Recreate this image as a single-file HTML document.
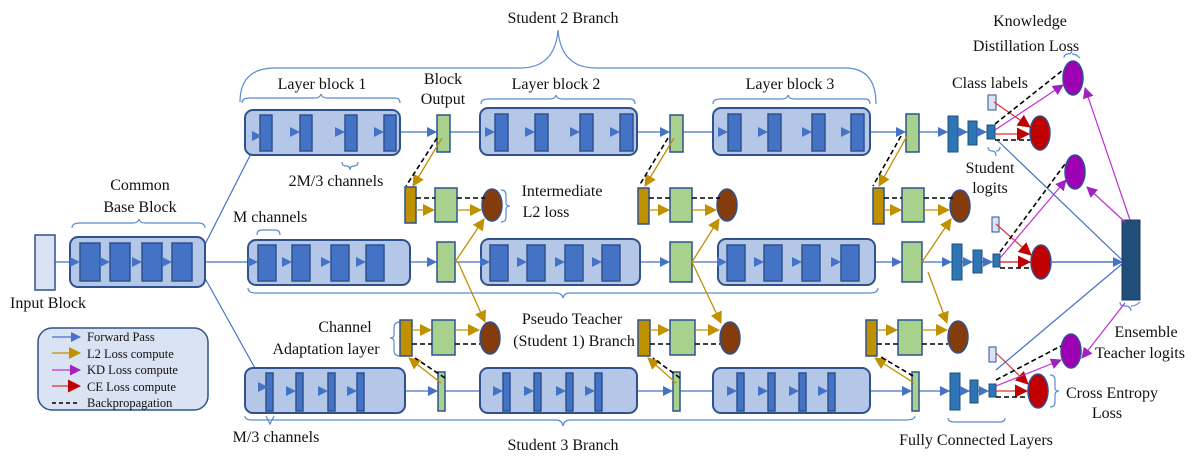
<!DOCTYPE html>
<html><head><meta charset="utf-8"><style>
body{margin:0;background:#fff}
svg{display:block}
text{font-family:"Liberation Serif",serif;fill:#111}
.blk{fill:#b4c7e7;stroke:#2f528f;stroke-width:2}
.in{fill:#4472c4;stroke:#2f528f;stroke-width:1.5}
.fc{fill:#2e75b6;stroke:#1f4e79;stroke-width:1}
.gr{fill:#a9d18e;stroke:#2f528f;stroke-width:1.5}
.or{fill:#bf9000;stroke:#2f528f;stroke-width:1.5}
.br{fill:#843c0c;stroke:#2f528f;stroke-width:1.5}
.rd{fill:#c00000;stroke:#2f528f;stroke-width:1.5}
.pu{fill:#9e00b4;stroke:#2f528f;stroke-width:1.5}
.bl{stroke:#4472c4;stroke-width:1.2;fill:none}
.au{stroke:#c09000;stroke-width:1.3;fill:none}
.pl{stroke:#c030d0;stroke-width:1.2;fill:none}
.re{stroke:#e03030;stroke-width:1.2;fill:none}
.da{stroke:#000;stroke-width:1.6;stroke-dasharray:5,3;fill:none}
.br2{stroke:#5b8bd0;stroke-width:1.2;fill:none}
.tri{fill:#4472c4}
</style></head><body>
<svg width="1196" height="459" viewBox="0 0 1196 459" xmlns="http://www.w3.org/2000/svg">
<defs>
<marker id="mb" markerWidth="10" markerHeight="10" refX="9" refY="5" orient="auto" markerUnits="userSpaceOnUse"><path d="M0,0L10,5L0,10z" fill="#4472c4"/></marker>
<marker id="mg" markerWidth="12" markerHeight="12" refX="11" refY="6" orient="auto" markerUnits="userSpaceOnUse"><path d="M0,0L12,6L0,12z" fill="#c09000"/></marker>
<marker id="mp" markerWidth="11" markerHeight="11" refX="10" refY="5.5" orient="auto" markerUnits="userSpaceOnUse"><path d="M0,0L11,5.5L0,11z" fill="#a020c0"/></marker>
<marker id="mr" markerWidth="13" markerHeight="13" refX="12" refY="6.5" orient="auto" markerUnits="userSpaceOnUse"><path d="M0,0L13,6.5L0,13z" fill="#c00000"/></marker>
<path id="t" d="M-10,-5L0,0L-10,5z" fill="#4472c4"/>
</defs>

<!-- Braces -->
<path class="br2" d="M240,102 Q240,68 275,68 L520,68 Q555,68 558,30 Q561,68 596,68 L845,68 Q876,68 876,104"/>
<path class="br2" d="M242,103 Q242,98 250,98 L315,98 Q320,98 321,94 Q322,98 327,98 L395,98 Q400,98 400,103"/>
<path class="br2" d="M481,104 Q481,99 488,99 L550,99 Q555,99 556,95 Q557,99 562,99 L630,99 Q635,99 635,104"/>
<path class="br2" d="M713,104 Q713,99 720,99 L782,99 Q787,99 788,95 Q789,99 794,99 L865,99 Q870,99 870,104"/>
<path class="br2" d="M72,228 Q72,223 80,223 L133,223 Q138,223 139,219 Q140,223 145,223 L198,223 Q205,223 205,228"/>
<path class="br2" d="M342,162 Q342,166 346,166 Q350,166 350,170 Q350,166 354,166 Q358,166 358,162"/>
<path class="br2" d="M257,235 Q257,230 262,230 L275,230 Q280,230 280,235"/>
<path class="br2" d="M248,288 Q248,293 256,293 L556,293 Q562,293 563,298 Q564,293 570,293 L870,293 Q878,293 878,288"/>
<path class="br2" d="M245,416 Q245,420 252,420 L556,420 Q562,420 563,426 Q564,420 570,420 L905,420 Q915,420 915,416"/>
<path class="br2" d="M266,416 L270,424 L274,416"/>
<path class="br2" d="M948,418 Q948,422 955,422 L1000,422 Q1005,422 1005,418"/>
<path class="br2" d="M988,147 Q988,151 992,151 Q996,151 996,156 M996,151 Q1000,151 1000,147"/>
<path class="br2" d="M1064,58 Q1064,54 1068,54 Q1072,54 1072,49 M1072,54 Q1076,54 1080,58"/>
<path class="br2" d="M1120,302 Q1120,306 1125,306 Q1131,306 1131,311 M1131,306 Q1136,306 1140,302"/>
<path class="br2" d="M501,190 Q506,190 506,195 L506,203 Q506,206 510,206 Q506,206 506,210 L506,217 Q506,222 501,222"/>
<path class="br2" d="M400,322 Q394,322 394,328 L394,335 Q394,338 390,338 Q394,338 394,342 L394,350 Q394,356 400,356"/>
<path class="br2" d="M1050,375 Q1055,375 1055,380 L1055,388 Q1055,391 1059,391 Q1055,391 1055,395 L1055,402 Q1055,407 1050,407"/>

<!-- lines -->
<path class="bl" d="M55,262H196M196,262L262,132M196,262L266,388M196,262H1122"/>
<path class="bl" d="M262,132H986"/>
<path class="bl" d="M270,391H988"/>
<path class="bl" d="M997,140L1122,260M996,370L1122,264"/>

<!-- Input & common -->
<rect x="35" y="235" width="20" height="55" fill="#dae3f3" stroke="#2f528f" stroke-width="1.5"/>
<rect class="blk" x="70" y="237" width="135" height="50" rx="8"/>
<rect class="in" x="80" y="243" width="20" height="38"/>
<rect class="in" x="110" y="243" width="20" height="38"/>
<rect class="in" x="142" y="243" width="20" height="38"/>
<rect class="in" x="172" y="243" width="20" height="38"/>

<!-- TOP ROW -->
<rect class="blk" x="245" y="110" width="155" height="45" rx="8"/>
<rect class="in" x="260" y="115" width="12" height="36"/><rect class="in" x="300" y="115" width="12" height="36"/><rect class="in" x="345" y="115" width="12" height="36"/><rect class="in" x="384" y="115" width="12" height="36"/>
<rect class="blk" x="480" y="108" width="157" height="47" rx="8"/>
<rect class="in" x="495" y="114" width="13" height="37"/><rect class="in" x="535" y="114" width="13" height="37"/><rect class="in" x="580" y="114" width="13" height="37"/><rect class="in" x="620" y="114" width="13" height="37"/>
<rect class="blk" x="713" y="108" width="157" height="47" rx="8"/>
<rect class="in" x="728" y="114" width="13" height="37"/><rect class="in" x="768" y="114" width="13" height="37"/><rect class="in" x="812" y="114" width="13" height="37"/><rect class="in" x="851" y="114" width="13" height="37"/>
<rect class="gr" x="437" y="115" width="13" height="37"/>
<rect class="gr" x="670" y="115" width="13" height="37"/>
<rect class="gr" x="906" y="114" width="13" height="38"/>
<rect class="fc" x="948" y="116" width="10" height="36"/><rect class="fc" x="968" y="121" width="9" height="24"/><rect class="fc" x="987" y="125" width="8" height="14"/>
<rect x="988" y="95" width="8" height="15" fill="#dae3f3" stroke="#2f528f"/>
<ellipse class="rd" cx="1040" cy="133" rx="10" ry="17"/>
<ellipse class="pu" cx="1073" cy="78" rx="10" ry="17"/>
<g>
<use href="#t" x="300" y="132"/><use href="#t" x="345" y="132"/><use href="#t" x="384" y="132"/><use href="#t" x="437" y="132"/>
<use href="#t" x="495" y="132"/><use href="#t" x="535" y="132"/><use href="#t" x="580" y="132"/><use href="#t" x="620" y="132"/><use href="#t" x="670" y="132"/>
<use href="#t" x="728" y="132"/><use href="#t" x="768" y="132"/><use href="#t" x="812" y="132"/><use href="#t" x="851" y="132"/><use href="#t" x="906" y="132"/>
<use href="#t" x="948" y="132"/><use href="#t" x="968" y="132"/><use href="#t" x="987" y="132"/>
<use href="#t" x="262" y="136"/>
</g>

<!-- MIDDLE ROW -->
<rect class="blk" x="248" y="240" width="162" height="45" rx="8"/>
<rect class="in" x="258" y="245" width="18" height="36"/><rect class="in" x="292" y="245" width="18" height="36"/><rect class="in" x="331" y="245" width="18" height="36"/><rect class="in" x="366" y="245" width="18" height="36"/>
<rect class="blk" x="481" y="239" width="159" height="46" rx="8"/>
<rect class="in" x="490" y="245" width="18" height="36"/><rect class="in" x="527" y="245" width="18" height="36"/><rect class="in" x="565" y="245" width="18" height="36"/><rect class="in" x="602" y="245" width="18" height="36"/>
<rect class="blk" x="718" y="239" width="157" height="46" rx="8"/>
<rect class="in" x="727" y="245" width="18" height="36"/><rect class="in" x="764" y="245" width="18" height="36"/><rect class="in" x="802" y="245" width="18" height="36"/><rect class="in" x="841" y="245" width="18" height="36"/>
<rect class="gr" x="437" y="242" width="18" height="40"/>
<rect class="gr" x="670" y="242" width="22" height="40"/>
<rect class="gr" x="902" y="242" width="20" height="40"/>
<rect class="fc" x="952" y="244" width="10" height="36"/><rect class="fc" x="973" y="250" width="9" height="23"/><rect class="fc" x="993" y="254" width="7" height="13"/>
<rect x="992" y="217" width="7" height="15" fill="#dae3f3" stroke="#2f528f"/>
<ellipse class="rd" cx="1041" cy="262" rx="10" ry="17"/>
<ellipse class="pu" cx="1075" cy="172" rx="10" ry="17"/>
<g>
<use href="#t" x="80" y="262"/><use href="#t" x="110" y="262"/><use href="#t" x="142" y="262"/><use href="#t" x="172" y="262"/>
<use href="#t" x="258" y="262"/><use href="#t" x="292" y="262"/><use href="#t" x="331" y="262"/><use href="#t" x="366" y="262"/><use href="#t" x="437" y="262"/>
<use href="#t" x="490" y="262"/><use href="#t" x="527" y="262"/><use href="#t" x="565" y="262"/><use href="#t" x="602" y="262"/><use href="#t" x="670" y="262"/>
<use href="#t" x="727" y="262"/><use href="#t" x="764" y="262"/><use href="#t" x="802" y="262"/><use href="#t" x="841" y="262"/><use href="#t" x="902" y="262"/>
<use href="#t" x="952" y="262"/><use href="#t" x="973" y="262"/><use href="#t" x="993" y="262"/><use href="#t" x="1123" y="262"/>
</g>

<!-- BOTTOM ROW -->
<rect class="blk" x="245" y="368" width="160" height="45" rx="8"/>
<rect class="in" x="266" y="373" width="7" height="38"/><rect class="in" x="296" y="373" width="7" height="38"/><rect class="in" x="328" y="373" width="7" height="38"/><rect class="in" x="357" y="373" width="7" height="38"/>
<rect class="blk" x="480" y="368" width="157" height="45" rx="8"/>
<rect class="in" x="503" y="373" width="7" height="38"/><rect class="in" x="534" y="373" width="7" height="38"/><rect class="in" x="566" y="373" width="7" height="38"/><rect class="in" x="595" y="373" width="7" height="38"/>
<rect class="blk" x="713" y="368" width="157" height="45" rx="8"/>
<rect class="in" x="737" y="373" width="7" height="38"/><rect class="in" x="768" y="373" width="7" height="38"/><rect class="in" x="799" y="373" width="7" height="38"/><rect class="in" x="828" y="373" width="7" height="38"/>
<rect class="gr" x="438" y="372" width="7" height="39"/>
<rect class="gr" x="673" y="372" width="7" height="39"/>
<rect class="gr" x="912" y="372" width="7" height="39"/>
<rect class="fc" x="950" y="373" width="10" height="37"/><rect class="fc" x="970" y="380" width="8" height="23"/><rect class="fc" x="989" y="384" width="7" height="13"/>
<rect x="989" y="347" width="7" height="15" fill="#dae3f3" stroke="#2f528f"/>
<ellipse class="rd" cx="1038" cy="391" rx="10" ry="17"/>
<ellipse class="pu" cx="1071" cy="351" rx="10" ry="17"/>
<g>
<use href="#t" x="268" y="387"/><use href="#t" x="296" y="391"/><use href="#t" x="328" y="391"/><use href="#t" x="357" y="391"/><use href="#t" x="438" y="391"/>
<use href="#t" x="503" y="391"/><use href="#t" x="534" y="391"/><use href="#t" x="566" y="391"/><use href="#t" x="595" y="391"/><use href="#t" x="673" y="391"/>
<use href="#t" x="737" y="391"/><use href="#t" x="768" y="391"/><use href="#t" x="799" y="391"/><use href="#t" x="828" y="391"/><use href="#t" x="912" y="391"/>
<use href="#t" x="950" y="391"/><use href="#t" x="970" y="391"/><use href="#t" x="989" y="391"/>
</g>

<!-- Ensemble -->
<rect x="1122" y="220" width="18" height="80" fill="#1f4e79" stroke="#1f3864"/>

<!-- Adaptation rows -->
<rect class="or" x="405" y="187" width="11" height="36"/><rect class="gr" x="435" y="188" width="22" height="34"/><ellipse class="br" cx="492" cy="205" rx="10" ry="16"/>
<path class="da" d="M416,198H435M457,198H485"/>
<path class="au" d="M416,210H434"  marker-end="url(#mg)"/><path class="au" d="M457,210H481" marker-end="url(#mg)"/>
<path class="au" d="M442,138L413,186" marker-end="url(#mg)"/>
<path class="da" d="M437,138L406,186"/>
<path class="au" d="M455,262L484,219" marker-end="url(#mg)"/>

<rect class="or" x="638" y="188" width="11" height="36"/><rect class="gr" x="670" y="188" width="22" height="34"/><ellipse class="br" cx="727" cy="205" rx="10" ry="16"/>
<path class="da" d="M649,198H670M692,198H720"/>
<path class="au" d="M649,210H669" marker-end="url(#mg)"/><path class="au" d="M692,210H716" marker-end="url(#mg)"/>
<path class="au" d="M674,138L645,186" marker-end="url(#mg)"/><path class="da" d="M668,138L639,186"/>
<path class="au" d="M692,262L719,219" marker-end="url(#mg)"/>

<rect class="or" x="873" y="188" width="11" height="36"/><rect class="gr" x="902" y="188" width="22" height="34"/><ellipse class="br" cx="960" cy="206" rx="10" ry="16"/>
<path class="da" d="M884,198H902M924,198H953"/>
<path class="au" d="M884,210H901" marker-end="url(#mg)"/><path class="au" d="M924,210H949" marker-end="url(#mg)"/>
<path class="au" d="M907,136L879,186" marker-end="url(#mg)"/><path class="da" d="M901,136L873,186"/>
<path class="au" d="M922,262L951,219" marker-end="url(#mg)"/>

<rect class="or" x="400" y="320" width="12" height="36"/><rect class="gr" x="432" y="320" width="23" height="35"/><ellipse class="br" cx="490" cy="338" rx="10" ry="16"/>
<path class="au" d="M412,330H431" marker-end="url(#mg)"/><path class="au" d="M455,330H479" marker-end="url(#mg)"/><path class="da" d="M412,344H432M455,344H480"/>
<path class="au" d="M441,383L409,358" marker-end="url(#mg)"/><path class="da" d="M445,378L415,358"/>
<path class="au" d="M458,262L485,322" marker-end="url(#mg)"/>

<rect class="or" x="638" y="320" width="12" height="36"/><rect class="gr" x="670" y="320" width="25" height="35"/><ellipse class="br" cx="730" cy="338" rx="10" ry="16"/>
<path class="au" d="M650,330H669" marker-end="url(#mg)"/><path class="au" d="M695,330H719" marker-end="url(#mg)"/><path class="da" d="M650,344H670M695,344H720"/>
<path class="au" d="M676,383L648,358" marker-end="url(#mg)"/><path class="da" d="M680,378L653,358"/>
<path class="au" d="M692,262L721,323" marker-end="url(#mg)"/>

<rect class="or" x="866" y="320" width="11" height="36"/><rect class="gr" x="898" y="320" width="24" height="35"/><ellipse class="br" cx="958" cy="337" rx="10" ry="16"/>
<path class="au" d="M877,330H897" marker-end="url(#mg)"/><path class="au" d="M922,330H947" marker-end="url(#mg)"/><path class="da" d="M877,344H898M922,344H948"/>
<path class="au" d="M914,383L875,358" marker-end="url(#mg)"/><path class="da" d="M913,376L881,357"/>
<path class="au" d="M928,272L947,323" marker-end="url(#mg)"/>

<!-- Loss arrows -->
<path class="re" d="M994,102L1030,127" marker-end="url(#mr)"/><path class="re" d="M996,224L1031,255" marker-end="url(#mr)"/><path class="re" d="M996,353L1028,384" marker-end="url(#mr)"/>
<path class="re" d="M995,134H1029" marker-end="url(#mr)"/><path class="re" d="M1000,262H1030" marker-end="url(#mr)"/><path class="re" d="M996,391H1027" marker-end="url(#mr)"/>
<path class="da" d="M995,140H1030M1000,268H1031M996,397H1028"/>
<path class="pl" d="M995,130L1063,85" marker-end="url(#mp)"/><path class="pl" d="M1000,258L1066,180" marker-end="url(#mp)"/><path class="pl" d="M996,386L1061,360" marker-end="url(#mp)"/>
<path class="da" d="M995,124L1063,70M1000,252L1065,164M996,380L1061,346"/>
<path class="pl" d="M1130,220L1085,88" marker-end="url(#mp)"/><path class="pl" d="M1125,222L1087,187" marker-end="url(#mp)"/><path class="pl" d="M1125,303L1082,358" marker-end="url(#mp)"/>
<path class="bl" d="M1050,262H1122"/>

<!-- Legend -->
<rect x="38" y="328" width="170" height="82" rx="14" fill="#dae3f3" stroke="#2f528f" stroke-width="1.5"/>
<path class="bl" d="M52,337H80" marker-end="url(#mb)"/>
<path class="au" d="M52,353H80" marker-end="url(#mg)"/>
<path class="pl" d="M52,370H80" marker-end="url(#mp)"/>
<path class="re" d="M52,386H80" marker-end="url(#mr)"/>
<path class="da" d="M52,403H80" style="stroke-dasharray:4,3"/>
<g font-size="12.5"><text x="87" y="341">Forward Pass</text><text x="87" y="358">L2 Loss compute</text><text x="87" y="374">KD Loss compute</text><text x="87" y="391">CE Loss compute</text><text x="87" y="407">Backpropagation</text></g>

<!-- Labels -->
<g font-size="16">
<text x="563" y="23" text-anchor="middle">Student 2 Branch</text>
<text x="322" y="89" text-anchor="middle">Layer block 1</text>
<text x="556" y="89" text-anchor="middle">Layer block 2</text>
<text x="790" y="89" text-anchor="middle">Layer block 3</text>
<text x="443" y="84" text-anchor="middle">Block</text>
<text x="443" y="104" text-anchor="middle">Output</text>
<text x="336" y="186" text-anchor="middle">2M/3 channels</text>
<text x="140" y="190" text-anchor="middle">Common</text>
<text x="140" y="212" text-anchor="middle">Base Block</text>
<text x="233" y="222">M channels</text>
<text x="48" y="308" text-anchor="middle">Input Block</text>
<text x="562" y="196" text-anchor="middle">Intermediate</text>
<text x="546" y="217" text-anchor="middle">L2 loss</text>
<text x="345" y="332" text-anchor="middle">Channel</text>
<text x="326" y="354" text-anchor="middle">Adaptation layer</text>
<text x="572" y="324" text-anchor="middle">Pseudo Teacher</text>
<text x="574" y="346" text-anchor="middle">(Student 1) Branch</text>
<text x="276" y="442" text-anchor="middle">M/3 channels</text>
<text x="563" y="450" text-anchor="middle">Student 3 Branch</text>
<text x="976" y="445" text-anchor="middle">Fully Connected Layers</text>
<text x="1030" y="26" text-anchor="middle">Knowledge</text>
<text x="1026" y="51" text-anchor="middle">Distillation Loss</text>
<text x="990" y="88" text-anchor="middle">Class labels</text>
<text x="990" y="173" text-anchor="middle">Student</text>
<text x="990" y="193" text-anchor="middle">logits</text>
<text x="1146" y="337" text-anchor="middle">Ensemble</text>
<text x="1140" y="358" text-anchor="middle">Teacher logits</text>
<text x="1112" y="398" text-anchor="middle">Cross Entropy</text>
<text x="1107" y="418" text-anchor="middle">Loss</text>
</g>
</svg>
</body></html>
